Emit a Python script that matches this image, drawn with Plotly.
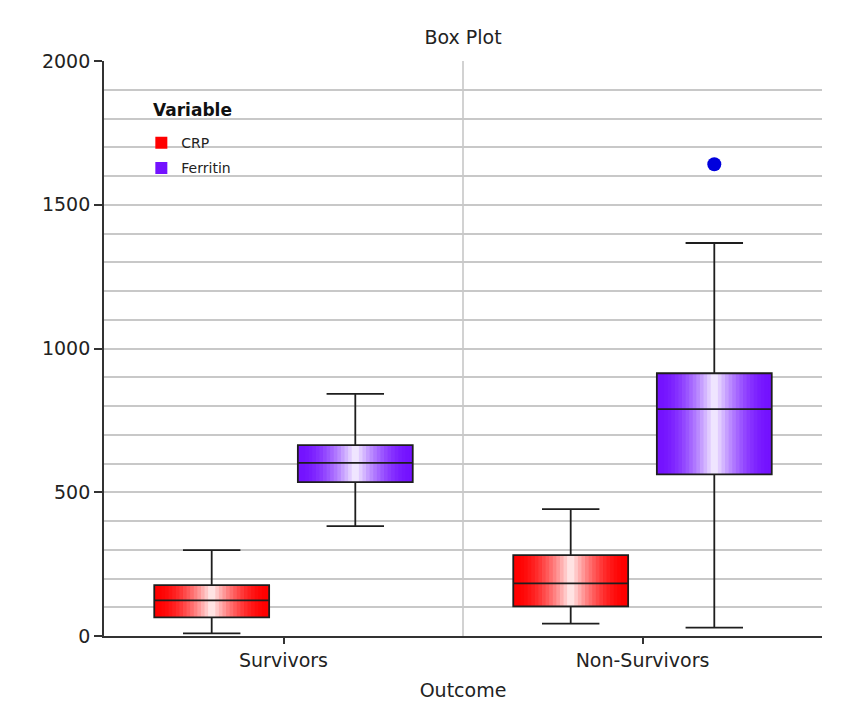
import plotly.graph_objects as go

# ---- data ----
categories = ["Survivors", "Non-Survivors"]
variables = ["CRP", "Ferritin"]

crp_lower = [9, 43]
crp_q1 = [65, 103]
crp_median = [124, 183]
crp_q3 = [177, 281]
crp_upper = [299, 441]

fer_lower = [382, 29]
fer_q1 = [535, 562]
fer_median = [602, 789]
fer_q3 = [664, 914]
fer_upper = [842, 1367]

outlier_category = ["Non-Survivors"]
outlier_variable = ["Ferritin"]
outlier_value = [1641]

legend_title = "Variable"

# ---- styling ----
edge_colors = {"CRP": (255, 0, 0), "Ferritin": (116, 18, 255)}
offsets = {"CRP": -0.2, "Ferritin": 0.2}
BOX_W = 0.32
N_LAYERS = 16
FONT = "DejaVu Sans"
W, H = 842, 717  # page has an 8px body margin

stats = {
    "CRP": dict(lowerfence=crp_lower, q1=crp_q1, median=crp_median, q3=crp_q3, upperfence=crp_upper),
    "Ferritin": dict(lowerfence=fer_lower, q1=fer_q1, median=fer_median, q3=fer_q3, upperfence=fer_upper),
}

fig = go.Figure()

for var in variables:
    xs = [i + offsets[var] for i in range(len(categories))]
    r, g, b = edge_colors[var]
    # gradient layers (outer -> inner)
    for k in range(N_LAYERS):
        frac = k / N_LAYERS
        d = 1 - frac
        white = (1 - d) ** 1.8
        col = "rgb(%d,%d,%d)" % (r + (255 - r) * white, g + (255 - g) * white, b + (255 - b) * white)
        fig.add_trace(go.Box(
            x=xs, **stats[var],
            width=BOX_W * (1 - frac),
            fillcolor=col,
            line=dict(width=0, color=col),
            whiskerwidth=0,
            name=var,
            legendgroup=var,
            showlegend=(k == 0),
            hoverinfo="skip",
            boxpoints=False,
        ))
    # outline
    fig.add_trace(go.Box(
        x=xs, **stats[var],
        width=BOX_W,
        fillcolor="rgba(0,0,0,0)",
        line=dict(width=1.8, color="#1e1e1e"),
        whiskerwidth=0.5,
        name=var,
        legendgroup=var,
        showlegend=False,
        boxpoints=False,
    ))

fig.add_trace(go.Scatter(
    x=[categories.index(c) + offsets[v] for c, v in zip(outlier_category, outlier_variable)],
    y=outlier_value,
    mode="markers",
    marker=dict(color="#0000dd", size=14, line=dict(width=0)),
    showlegend=False,
))

fig.add_annotation(
    text="<b>%s</b>" % legend_title,
    xref="paper", yref="paper", x=0.0656, y=0.915,
    xanchor="left", yanchor="middle", showarrow=False,
    font=dict(size=17, color="#111", family=FONT),
)

fig.update_layout(
    width=W, height=H,
    boxmode="overlay",
    paper_bgcolor="white",
    plot_bgcolor="white",
    margin=dict(l=96, r=28, t=53, b=89),
    font=dict(family=FONT, color="#222"),
    title=dict(text="Box Plot", x=0.5, xref="paper", y=1 - 29 / H, yref="container",
               yanchor="middle", xanchor="center", font=dict(size=19, color="#222")),
    legend=dict(
        x=0.052, y=0.885, xanchor="left", yanchor="top",
        bgcolor="rgba(0,0,0,0)",
        font=dict(size=14, color="#222"),
        tracegroupgap=4,
        traceorder="grouped",
    ),
    xaxis=dict(
        range=[-0.5, 1.5],
        tickvals=list(range(len(categories))),
        ticktext=categories,
        showgrid=False,
        zeroline=False,
        showline=True, linecolor="#333", linewidth=1.8,
        ticks="outside", ticklen=6, tickcolor="#333", tickwidth=1.5,
        tickfont=dict(size=19, color="#222"),
        minor=dict(tickvals=[0.5], showgrid=True, gridcolor="#d2d2d2", gridwidth=2, ticks=""),
        title=dict(text="Outcome", font=dict(size=19, color="#222"), standoff=14),
    ),
    yaxis=dict(
        range=[0, 2000],
        dtick=500,
        showgrid=True, gridcolor="#c8c8c8", gridwidth=1.6,
        minor=dict(dtick=100, showgrid=True, gridcolor="#c8c8c8", gridwidth=1.6, ticks=""),
        zeroline=False,
        showline=True, linecolor="#333", linewidth=1.8,
        ticks="outside", ticklen=8, tickcolor="#333", tickwidth=1.5,
        tickfont=dict(size=19, color="#222"),
    ),
)

fig.write_html("out.html")
